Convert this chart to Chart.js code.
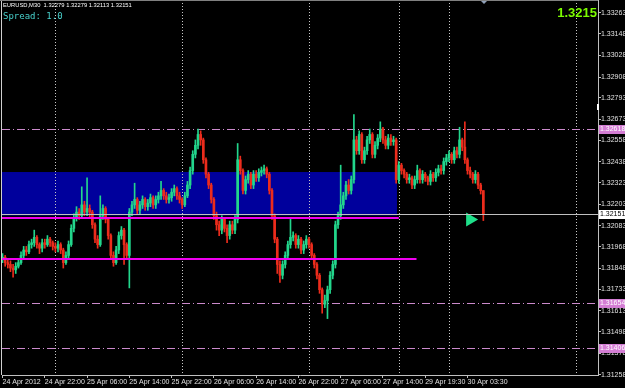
<!DOCTYPE html>
<html>
<head>
<meta charset="utf-8">
<script src="https://cdn.jsdelivr.net/npm/chart.js@4.4.0/dist/chart.umd.min.js"></script>
<style>
  html, body { margin: 0; padding: 0; background: #000; }
  #wrap { position: relative; width: 625px; height: 388px; overflow: hidden; background: #000; }
  #chart { position: absolute; left: 0; top: 0; }
  .lbl { position: absolute; white-space: pre; line-height: 1; }
  #title { left: 3px; top: 2px; font: 5.8px 'Liberation Sans', Arial, sans-serif; color: #ffffff; }
  #spread { left: 3px; top: 11px; font: 9px 'DejaVu Sans Mono', monospace; color: #48d1cc; }
  #bid { right: 28px; top: 5px; font: bold 13px 'Liberation Sans', Arial, sans-serif; color: #7cfc00; }
</style>
</head>
<body>
<div id="wrap">
  <canvas id="chart" width="625" height="388"></canvas>
  <div class="lbl" id="title">EURUSD,M30  1.32279 1.32279 1.32113 1.32151</div>
  <div class="lbl" id="spread">Spread: 1.0</div>
  <div class="lbl" id="bid">1.3215</div>
</div>
<script>
// M30 bars, 24 Apr 14:00 .. 30 Apr 06:30 (bar index 0..182)
const opens = [
  1.3190,1.3191,1.3188,1.3187,1.3185,1.3184,1.3186,1.3188,1.3192,1.3195,
  1.3194,1.3198,1.3199,1.3202,1.3198,1.3196,1.3199,1.3198,1.3201,1.3199,
  1.3197,1.3196,1.3198,1.3195,1.3188,1.3192,1.3198,1.3207,1.3213,1.3216,
  1.3214,1.3220,1.3216,1.3218,1.3216,1.3209,1.3201,1.3198,1.3214,1.3218,
  1.3212,1.3203,1.3192,1.3188,1.3195,1.3203,1.3206,1.3198,1.3192,1.3216,
  1.3220,1.3223,1.3217,1.3220,1.3223,1.3219,1.3221,1.3224,1.3220,1.3223,
  1.3225,1.3228,1.3225,1.3223,1.3224,1.3227,1.3229,1.3225,1.3223,1.3220,
  1.3225,1.3231,1.3239,1.3248,1.3253,1.3259,1.3256,1.3245,1.3237,1.3231,
  1.3223,1.3214,1.3209,1.3206,1.3212,1.3207,1.3203,1.3209,1.3206,1.3212,
  1.3245,1.3239,1.3228,1.3234,1.3237,1.3231,1.3237,1.3235,1.3238,1.3239,
  1.3240,1.3237,1.3228,1.3214,1.3201,1.3187,1.3181,1.3187,1.3192,1.3198,
  1.3202,1.3203,1.3198,1.3201,1.3195,1.3198,1.3201,1.3198,1.3192,1.3187,
  1.3181,1.3173,1.3165,1.3167,1.3173,1.3181,1.3187,1.3209,1.3214,1.3220,
  1.3225,1.3231,1.3228,1.3234,1.3256,1.3250,1.3259,1.3245,1.3250,1.3256,
  1.3259,1.3248,1.3253,1.3257,1.3262,1.3256,1.3253,1.3257,1.3255,1.3256,
  1.3234,1.3242,1.3239,1.3237,1.3234,1.3235,1.3231,1.3234,1.3239,1.3234,
  1.3237,1.3235,1.3233,1.3237,1.3235,1.3238,1.3240,1.3239,1.3244,1.3246,
  1.3248,1.3245,1.3250,1.3248,1.3256,1.3252,1.3245,1.3239,1.3237,1.3234,
  1.3237,1.3231,1.32279
];
const highs = [
  1.3193,1.3192,1.3190,1.3189,1.3187,1.3188,1.3190,1.3194,1.3197,1.3197,
  1.3200,1.3201,1.3206,1.3203,1.3199,1.3201,1.3201,1.3203,1.3202,1.3200,
  1.3199,1.3200,1.3199,1.3196,1.3194,1.3200,1.3209,1.3215,1.3219,1.3218,
  1.3230,1.3222,1.3235,1.3220,1.3217,1.3210,1.3203,1.3225,1.3220,1.3219,
  1.3213,1.3204,1.3194,1.3197,1.3205,1.3208,1.3207,1.3199,1.3218,1.3222,
  1.3232,1.3224,1.3222,1.3225,1.3224,1.3223,1.3226,1.3225,1.3225,1.3227,
  1.3233,1.3229,1.3227,1.3226,1.3229,1.3231,1.3230,1.3227,1.3224,1.3227,
  1.3233,1.3241,1.3250,1.3256,1.3262,1.3261,1.3257,1.3246,1.3238,1.3232,
  1.3224,1.3216,1.3211,1.3214,1.3213,1.3209,1.3211,1.3211,1.3214,1.3254,
  1.3247,1.3240,1.3236,1.3239,1.3238,1.3239,1.3239,1.3240,1.3241,1.3242,
  1.3241,1.3238,1.3229,1.3215,1.3202,1.3189,1.3189,1.3194,1.3200,1.3212,
  1.3205,1.3204,1.3203,1.3202,1.3200,1.3203,1.3202,1.3199,1.3193,1.3188,
  1.3182,1.3174,1.3170,1.3175,1.3183,1.3189,1.3211,1.3216,1.3242,1.3227,
  1.3233,1.3234,1.3236,1.3270,1.3258,1.3261,1.3260,1.3252,1.3258,1.3262,
  1.3260,1.3255,1.3259,1.3266,1.3263,1.3258,1.3259,1.3259,1.3258,1.3257,
  1.3244,1.3243,1.3240,1.3238,1.3237,1.3236,1.3236,1.3242,1.3240,1.3239,
  1.3238,1.3236,1.3239,1.3238,1.3240,1.3242,1.3242,1.3246,1.3248,1.3250,
  1.3249,1.3252,1.3252,1.3263,1.3257,1.3266,1.3246,1.3241,1.3238,1.3239,
  1.3238,1.3232,1.32279
];
const lows = [
  1.3188,1.3186,1.3185,1.3183,1.3180,1.3182,1.3185,1.3187,1.3190,1.3192,
  1.3193,1.3196,1.3197,1.3196,1.3193,1.3194,1.3196,1.3197,1.3197,1.3195,
  1.3194,1.3194,1.3193,1.3185,1.3187,1.3190,1.3197,1.3205,1.3211,1.3212,
  1.3213,1.3214,1.3214,1.3213,1.3207,1.3199,1.3196,1.3197,1.3212,1.3210,
  1.3201,1.3190,1.3186,1.3187,1.3193,1.3201,1.3187,1.3190,1.3174,1.3214,
  1.3218,1.3215,1.3215,1.3218,1.3217,1.3217,1.3219,1.3218,1.3218,1.3221,
  1.3223,1.3223,1.3221,1.3221,1.3222,1.3225,1.3223,1.3221,1.3218,1.3219,
  1.3224,1.3229,1.3237,1.3246,1.3251,1.3253,1.3243,1.3235,1.3229,1.3221,
  1.3212,1.3206,1.3203,1.3204,1.3205,1.3199,1.3201,1.3204,1.3204,1.3210,
  1.3237,1.3226,1.3226,1.3232,1.3229,1.3229,1.3233,1.3233,1.3236,1.3237,
  1.3235,1.3226,1.3212,1.3199,1.3182,1.3177,1.3179,1.3185,1.3190,1.3196,
  1.3200,1.3196,1.3196,1.3193,1.3193,1.3196,1.3196,1.3190,1.3185,1.3179,
  1.3171,1.3160,1.3163,1.3157,1.3171,1.3179,1.3185,1.3207,1.3212,1.3218,
  1.3223,1.3226,1.3226,1.3232,1.3248,1.3248,1.3243,1.3243,1.3248,1.3254,
  1.3246,1.3246,1.3251,1.3255,1.3254,1.3251,1.3251,1.3253,1.3253,1.3232,
  1.3232,1.3237,1.3235,1.3232,1.3232,1.3229,1.3229,1.3232,1.3232,1.3232,
  1.3233,1.3231,1.3231,1.3233,1.3233,1.3236,1.3237,1.3237,1.3242,1.3244,
  1.3243,1.3243,1.3246,1.3246,1.3250,1.3243,1.3237,1.3235,1.3232,1.3232,
  1.3229,1.3226,1.32113
];
const closes = [
  1.3191,1.3188,1.3187,1.3185,1.3184,1.3186,1.3188,1.3192,1.3195,1.3194,
  1.3198,1.3199,1.3202,1.3198,1.3196,1.3199,1.3198,1.3201,1.3199,1.3197,
  1.3196,1.3198,1.3195,1.3188,1.3192,1.3198,1.3207,1.3213,1.3216,1.3214,
  1.3220,1.3216,1.3218,1.3216,1.3209,1.3201,1.3198,1.3214,1.3218,1.3212,
  1.3203,1.3192,1.3188,1.3195,1.3203,1.3206,1.3198,1.3192,1.3216,1.3220,
  1.3223,1.3217,1.3220,1.3223,1.3219,1.3221,1.3224,1.3220,1.3223,1.3225,
  1.3228,1.3225,1.3223,1.3224,1.3227,1.3229,1.3225,1.3223,1.3220,1.3225,
  1.3231,1.3239,1.3248,1.3253,1.3259,1.3256,1.3245,1.3237,1.3231,1.3223,
  1.3214,1.3209,1.3206,1.3212,1.3207,1.3203,1.3209,1.3206,1.3212,1.3245,
  1.3239,1.3228,1.3234,1.3237,1.3231,1.3237,1.3235,1.3238,1.3239,1.3240,
  1.3237,1.3228,1.3214,1.3201,1.3187,1.3181,1.3187,1.3192,1.3198,1.3202,
  1.3203,1.3198,1.3201,1.3195,1.3198,1.3201,1.3198,1.3192,1.3187,1.3181,
  1.3173,1.3165,1.3167,1.3173,1.3181,1.3187,1.3209,1.3214,1.3220,1.3225,
  1.3231,1.3228,1.3234,1.3256,1.3250,1.3259,1.3245,1.3250,1.3256,1.3259,
  1.3248,1.3253,1.3257,1.3262,1.3256,1.3253,1.3257,1.3255,1.3256,1.3234,
  1.3242,1.3239,1.3237,1.3234,1.3235,1.3231,1.3234,1.3239,1.3234,1.3237,
  1.3235,1.3233,1.3237,1.3235,1.3238,1.3240,1.3239,1.3244,1.3246,1.3248,
  1.3245,1.3250,1.3248,1.3256,1.3252,1.3245,1.3239,1.3237,1.3234,1.3237,
  1.3231,1.32279,1.32151
];

const xTickBars = [0, 16, 32, 48, 64, 80, 96, 112, 128, 144, 160, 176];
const xTickLabels = ['24 Apr 2012', '24 Apr 22:00', '25 Apr 06:00', '25 Apr 14:00', '25 Apr 22:00',
  '26 Apr 06:00', '26 Apr 14:00', '26 Apr 22:00', '27 Apr 06:00', '27 Apr 14:00', '29 Apr 19:30', '30 Apr 03:30'];
const priceTicks = [1.33263, 1.33148, 1.33028, 1.32908, 1.32793, 1.32673, 1.32558, 1.32438, 1.32323,
  1.32203, 1.32083, 1.31968, 1.31848, 1.31733, 1.31613, 1.31498, 1.31378, 1.31258];
const separatorBars = [20, 68, 116, 150, 169, 217];
const levelPrices = [1.32618, 1.31654, 1.31406];
const currentPrice = 1.32151;
const supportLines = [{price: 1.32127, toBar: 150.0}, {price: 1.31900, toBar: 156.7}];
const zone = {top: 1.32382, bottom: 1.32141, toBar: 149.3};
const arrowPoint = [{x: 177, y: 1.32119}];

const upColor = '#22d68c';
const downColor = '#ec2c1c';
var barColors = closes.map((c, i) => c >= opens[i] ? upColor : downColor);

var wickData = highs.map((h, i) => ({x: i, y: [lows[i], h]}));
var bodyData = opens.map((o, i) => ({x: i, y: [o, closes[i]]}));

var mt4Plugin = {
  id: 'mt4',
  beforeDraw(chart) {
    var ctx = chart.ctx;
    ctx.save();
    ctx.fillStyle = '#000';
    ctx.fillRect(0, 0, chart.width, chart.height);
    ctx.restore();
  },
  beforeDatasetsDraw(chart) {
    var ctx = chart.ctx, xs = chart.scales.x, ys = chart.scales.y, a = chart.chartArea;
    ctx.save();
    // blue rectangle
    var zt = ys.getPixelForValue(zone.top), zb = ys.getPixelForValue(zone.bottom);
    ctx.fillStyle = '#00009c';
    ctx.fillRect(a.left, zt, xs.getPixelForValue(zone.toBar) - a.left, zb - zt);
    // period separators
    ctx.strokeStyle = '#c8c8c8';
    ctx.lineWidth = 1;
    ctx.setLineDash([1, 2]);
    separatorBars.forEach(function (b) {
      var x = Math.round(xs.getPixelForValue(b)) + 0.5;
      ctx.beginPath(); ctx.moveTo(x, a.top); ctx.lineTo(x, a.bottom); ctx.stroke();
    });
    // dash-dot horizontal levels
    ctx.strokeStyle = '#cc8acc';
    ctx.setLineDash([8, 3, 1, 3]);
    levelPrices.forEach(function (p) {
      var y = Math.round(ys.getPixelForValue(p)) + 0.5;
      ctx.beginPath(); ctx.moveTo(a.left, y); ctx.lineTo(a.right, y); ctx.stroke();
    });
    ctx.restore();
  },
  afterDatasetsDraw(chart) {
    var ctx = chart.ctx, xs = chart.scales.x, ys = chart.scales.y, a = chart.chartArea;
    ctx.save();
    ctx.strokeStyle = '#c0c0c0';
    ctx.lineWidth = 1;
    var y = Math.round(ys.getPixelForValue(currentPrice)) + 0.5;
    ctx.beginPath(); ctx.moveTo(a.left, y); ctx.lineTo(a.right, y); ctx.stroke();
    ctx.strokeStyle = '#f000f0';
    ctx.lineWidth = 2;
    supportLines.forEach(function (l) {
      var yy = Math.round(ys.getPixelForValue(l.price));
      ctx.beginPath(); ctx.moveTo(a.left, yy); ctx.lineTo(xs.getPixelForValue(l.toBar), yy); ctx.stroke();
    });
    ctx.restore();
  },
  afterDraw(chart) {
    var ctx = chart.ctx, ys = chart.scales.y, a = chart.chartArea;
    ctx.save();
    // frame
    ctx.strokeStyle = '#d0d0d0';
    ctx.lineWidth = 1;
    ctx.beginPath(); ctx.moveTo(1.5, 0); ctx.lineTo(1.5, a.bottom); ctx.stroke();
    ctx.strokeStyle = '#808080';
    ctx.beginPath(); ctx.moveTo(0, 0.5); ctx.lineTo(a.right, 0.5); ctx.stroke();
    // shift marker
    ctx.fillStyle = '#8fa0b8';
    ctx.beginPath(); ctx.moveTo(481, 1); ctx.lineTo(487, 1); ctx.lineTo(484, 4); ctx.closePath(); ctx.fill();
    ctx.fillStyle = '#ffffff';
    ctx.fillRect(597, 104, 2, 6);
    // price labels on the axis
    ctx.font = '7px "Liberation Sans", Arial, sans-serif';
    ctx.textBaseline = 'middle';
    ctx.textAlign = 'left';
    var boxes = levelPrices.map(p => ({p: p, bg: '#d47ed4', fg: '#ffffff'}));
    boxes.push({p: currentPrice, bg: '#ffffff', fg: '#000000'});
    boxes.forEach(function (b) {
      var y = Math.round(ys.getPixelForValue(b.p));
      ctx.fillStyle = b.bg;
      ctx.fillRect(a.right + 1, y - 4, 27, 9);
      ctx.fillStyle = b.fg;
      ctx.fillText(b.p.toFixed(5), a.right + 2, y + 0.5);
    });
    ctx.restore();
  }
};

var ctx = document.getElementById('chart').getContext('2d');
var myChart = new Chart(ctx, {
  type: 'bar',
  data: {
    datasets: [
      {
        type: 'scatter',
        data: arrowPoint,
        pointStyle: 'triangle',
        rotation: 90,
        radius: 8,
        backgroundColor: '#1ee08a',
        borderWidth: 0,
      },
      {
        label: 'body',
        data: bodyData,
        backgroundColor: barColors,
        barThickness: 2,
        minBarLength: 1,
        grouped: false,
        borderWidth: 0,
      },
      {
        label: 'wick',
        data: wickData,
        backgroundColor: barColors,
        barThickness: 1,
        grouped: false,
        borderWidth: 0,
      },
    ],
  },
  options: {
    responsive: false,
    animation: false,
    layout: { autoPadding: false, padding: { left: 2, top: 0, right: 0, bottom: 0 } },
    plugins: { legend: { display: false }, tooltip: { enabled: false } },
    scales: {
      x: {
        type: 'linear',
        min: -0.2,
        max: 225.4,
        offset: false,
        grid: { display: true, offset: false, drawOnChartArea: false, drawTicks: true, tickLength: 3, color: '#c0c0c0' },
        border: { display: true, color: '#c0c0c0' },
        ticks: {
          autoSkip: false,
          maxRotation: 0,
          align: 'start',
          padding: 0,
          color: '#e0e0e0',
          font: { family: 'Liberation Sans', size: 7 },
          callback: function (v) { return xTickLabels[xTickBars.indexOf(v)]; },
        },
        afterBuildTicks: function (scale) { scale.ticks = xTickBars.map(v => ({value: v})); },
        afterFit: function (scale) { scale.height = 13; scale.paddingLeft = 0; scale.paddingRight = 0; },
      },
      y: {
        position: 'right',
        min: 1.312575,
        max: 1.33335,
        grid: { display: true, drawOnChartArea: false, drawTicks: true, tickLength: 3, color: '#c0c0c0' },
        border: { display: true, color: '#c0c0c0' },
        ticks: {
          autoSkip: false,
          padding: 0,
          color: '#e0e0e0',
          font: { family: 'Liberation Sans', size: 7 },
          callback: function (v) { return v.toFixed(5); },
        },
        afterBuildTicks: function (scale) { scale.ticks = priceTicks.map(v => ({value: v})); },
        afterFit: function (scale) { scale.width = 27; scale.paddingTop = 0; scale.paddingBottom = 0; },
      },
    },
  },
  plugins: [mt4Plugin],
});
</script>
</body>
</html>
